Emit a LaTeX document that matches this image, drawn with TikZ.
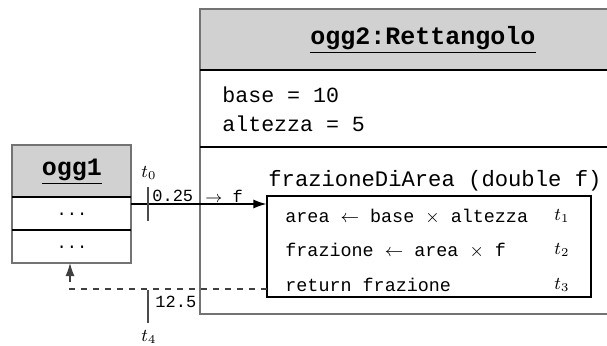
\documentclass[tikz,border=0pt]{standalone}
\usepackage{fontspec}
\setmonofont{Liberation Mono}
\usetikzlibrary{arrows.meta}
\begin{document}
\begin{tikzpicture}[x=0.5pt, y=-0.5pt]
% Stili
\tikzstyle{titolo} = [font=\ttfamily\bfseries\fontsize{12.5}{14}\selectfont]
\tikzstyle{campo} = [anchor=west, inner sep=0pt, font=\ttfamily\fontsize{10.8}{12}\selectfont]
\tikzstyle{istr} = [anchor=west, inner sep=0pt, font=\ttfamily\fontsize{9.2}{11}\selectfont]
\tikzstyle{piccolo} = [inner sep=0pt, font=\ttfamily\fontsize{8.5}{10}\selectfont]
\tikzstyle{tempo} = [inner sep=0pt, font=\fontsize{9}{11}\selectfont]
\tikzstyle{bordo} = [draw=black!55, line width=0.6pt]

\useasboundingbox (0,0) rectangle (607,345);

% Oggetto ogg2
\fill[black!18] (200,9) rectangle (612,70);
\draw[bordo] (612,9) -- (200,9) -- (200,314) -- (612,314);
\draw[line width=0.8pt] (200,70) -- (612,70);
\draw[line width=0.6pt] (200,147) -- (612,147);
\node[titolo] (ogg2) at (423,40) {\underline{ogg2:Rettangolo}};
\node[campo] (base) at (222,95) {base = 10};
\node[campo] (altezza) at (222,124) {altezza = 5};

% Metodo
\node[campo, font=\ttfamily\fontsize{11.1}{12}\selectfont] (firma) at (268,181) {frazioneDiArea (double f)};
\node[rectangle, draw, line width=0.6pt, minimum width=162pt, minimum height=50.5pt] (metodo) at (429,246.5) {};
\node[istr] (riga1) at (285,217) {area $\leftarrow$ base $\times$ altezza};
\node[istr] (riga2) at (285,251) {frazione $\leftarrow$ area $\times$ f};
\node[istr] (riga3) at (285,285) {return frazione};
\node[tempo] (t1) at (562,216) {$t_1$};
\node[tempo] (t2) at (562,250) {$t_2$};
\node[tempo] (t3) at (562,285) {$t_3$};

% Oggetto ogg1
\fill[black!18] (12,145) rectangle (131,197);
\draw[bordo] (12,145) rectangle (131,263);
\draw[line width=0.8pt] (12,197) -- (131,197);
\draw[line width=0.6pt] (12,230) -- (131,230);
\node[titolo] (ogg1) at (72,172) {\underline{ogg1}};
\node[piccolo] (op1) at (72,214) {...};
\node[piccolo] (op2) at (72,247) {...};
\coordinate (ogg1out) at (131,204);
\coordinate (ogg1in) at (70,263);

% Chiamata e ritorno
\draw[line width=0.6pt, -{Latex[length=6.5pt, width=4.5pt]}] (ogg1out) -- (ogg1out -| metodo.west);
\coordinate (ret) at (267,289);
\draw[black!75, line width=0.6pt, dashed, -{Latex[length=6.5pt, width=4.5pt]}] (ret) -| (ogg1in);

% Istanti
\draw[black!70, line width=0.6pt] (148,187) -- (148,221);
\draw[black!70, line width=0.6pt] (148,290) -- (148,323);
\node[tempo] (t0) at (149,173) {$t_0$};
\node[tempo] (t4) at (149,337) {$t_4$};
\node[piccolo, anchor=west] (par) at (152,196) {0.25};
\node[piccolo, anchor=west] (freccia) at (205,196) {$\rightarrow$ f};
\node[piccolo, anchor=west] (val) at (155,302) {12.5};
\end{tikzpicture}
\end{document}
